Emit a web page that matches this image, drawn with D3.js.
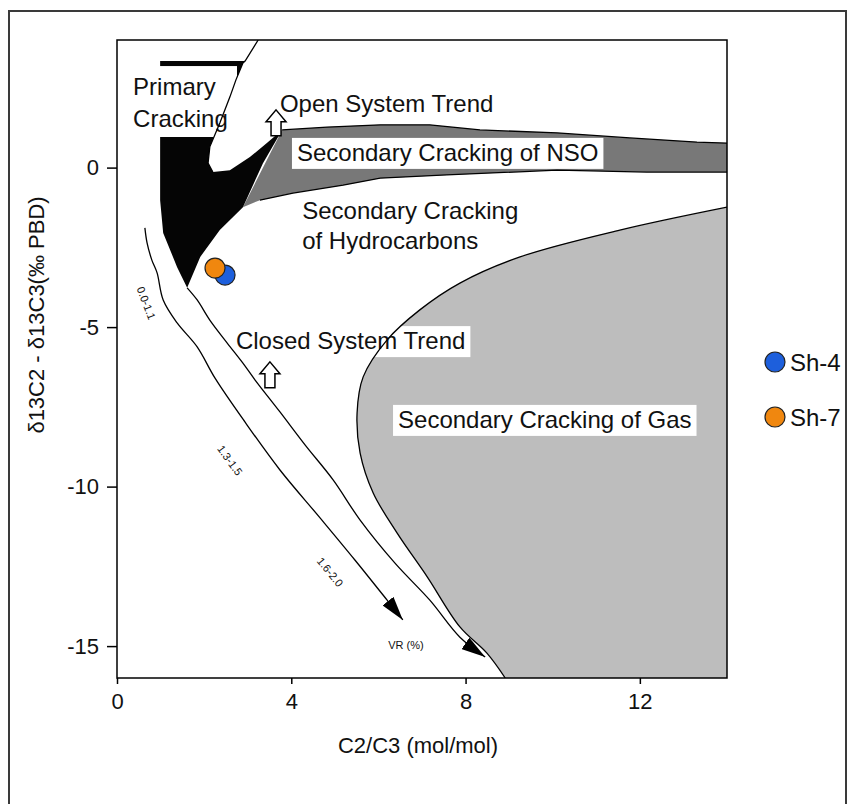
<!DOCTYPE html>
<html><head><meta charset="utf-8">
<script src="https://cdn.jsdelivr.net/npm/d3@7"></script>
<style>body{margin:0;background:#fff} text{font-family:"Liberation Sans",Arial,sans-serif;fill:#111}</style>
</head><body><svg id="c" width="848" height="804"></svg>
<script>
// ---------- data ----------
const xTicks = [0, 4, 8, 12];
const yTicks = [0, -5, -10, -15];
const xLabel = "C2/C3 (mol/mol)";
const yLabel = "δ13C2 - δ13C3(‰ PBD)";

// Primary cracking (black) region outline
const primaryCracking = [[0.99,3.34],[2.94,3.34],[2.89,3.28],[2.73,2.75],[2.59,2.21],[2.36,1.40],[2.13,0.65],[2.09,0.14],[2.20,-0.14],[2.59,-0.08],[3.05,0.33],[3.44,0.77],[3.79,1.18],[3.35,0.14],[2.89,-1.24],[2.36,-1.96],[1.91,-2.80],[1.61,-3.77],[1.38,-3.12],[1.06,-2.05],[0.99,-1.02]];
// Open-system wedge boundary
const openWedge = [[3.24,4],[2.94,3.34],[2.89,3.28],[2.73,2.75],[2.59,2.21],[2.36,1.40],[2.13,0.65],[2.09,0.14],[2.20,-0.14],[2.59,-0.08],[3.05,0.33],[3.44,0.77],[3.79,1.18]];
// Secondary cracking of NSO band (dark grey): upper and lower edges
const nsoTop = [[3.79,1.18],[4.82,1.27],[6.04,1.34],[7.18,1.34],[8.33,1.18],[10.10,1.09],[11.77,0.93],[13.31,0.80],[14,0.77]];
const nsoBottom = [[14,-0.14],[12.16,-0.14],[10.10,-0.08],[7.57,-0.23],[6.04,-0.33],[5.19,-0.55],[4.04,-0.80],[3.28,-1.02],[2.89,-1.24]];
// Secondary cracking of gas (light grey) boundary
const gasEdge = [[14,-1.24],[11.54,-1.96],[9.25,-2.80],[7.87,-3.62],[6.95,-4.46],[6.20,-5.40],[5.65,-6.56],[5.51,-7.69],[5.58,-8.95],[5.88,-10.20],[6.43,-11.46],[7.12,-12.83],[7.87,-14.40],[8.49,-15.22],[8.91,-16]];
// Closed-system (VR) trend curves
const vrLeft = [[0.64,-1.89],[0.69,-2.36],[0.80,-2.90],[0.92,-3.30],[1.06,-4.15],[1.38,-4.87],[1.84,-5.62],[2.25,-6.60],[2.94,-7.98],[3.74,-9.48],[4.66,-10.98],[5.46,-12.30],[6.20,-13.56],[6.56,-14.18]];
const vrRight = [[1.61,-3.77],[1.84,-4.15],[2.13,-4.78],[2.53,-5.50],[2.89,-6.13],[3.17,-6.66],[3.74,-7.66],[4.32,-8.70],[4.96,-9.79],[5.58,-11.05],[6.38,-12.40],[7.18,-13.56],[7.87,-14.72],[8.45,-15.34]];
// Samples
const samples = ["Sh-4", "Sh-7"];
const sampleX = [2.48, 2.25];
const sampleY = [-3.37, -3.15];
const sampleColors = ["#1d5fdc", "#f0870f"];
// Region labels (data-space anchors, left/baseline)
const regionLabels = [
  {t:"Primary", x:0.37, y:2.28, box:false},
  {t:"Cracking", x:0.37, y:1.27, box:false},
  {t:"Open System Trend", x:3.74, y:1.74, box:false},
  {t:"Secondary Cracking of NSO", x:4.13, y:0.21, box:true},
  {t:"Secondary Cracking", x:4.25, y:-1.61, box:false},
  {t:"of Hydrocarbons", x:4.25, y:-2.55, box:false},
  {t:"Closed System Trend", x:2.73, y:-5.69, box:true},
  {t:"Secondary Cracking of Gas", x:6.45, y:-8.16, box:true}
];
const curveLabels = [
  {t:"0.0-1.1", x:0.67, y:-4.25, a:69},
  {t:"1.3-1.5", x:2.59, y:-9.18, a:54},
  {t:"1.6-2.0", x:4.89, y:-12.68, a:51},
  {t:"VR (%)", x:6.63, y:-14.97, a:0}
];
const openArrows = [[3.65,1.81],[3.51,-6.09]];

// ---------- layout ----------
const L=117, R=727, T=40, B=678;
const svg = d3.select("#c");
const x = d3.scaleLinear().domain([0,14]).range([L,R]);
const y = d3.scaleLinear().domain([-16,4]).range([B,T]);
const lin = d3.line().x(d=>x(d[0])).y(d=>y(d[1]));
const smooth = d3.line().x(d=>x(d[0])).y(d=>y(d[1])).curve(d3.curveCatmullRom.alpha(0.5));

svg.append("rect").attr("x",9).attr("y",11).attr("width",837).attr("height",800)
  .attr("fill","none").attr("stroke","#3a3a3a").attr("stroke-width",2);

const defs = svg.append("defs");
defs.append("marker").attr("id","ah").attr("markerUnits","userSpaceOnUse")
  .attr("markerWidth",26).attr("markerHeight",14).attr("refX",24).attr("refY",7)
  .attr("orient","auto").append("path").attr("d","M0,0L24,7L0,14Z").attr("fill","#000");
defs.append("clipPath").attr("id","pc").append("rect").attr("x",L).attr("y",T).attr("width",R-L).attr("height",B-T);

const g = svg.append("g").attr("clip-path","url(#pc)");
// fills
g.append("path").attr("d", smooth(gasEdge) + `L${x(14)},${y(-16)}Z`).attr("fill","#bdbdbd");
g.append("path").attr("d", lin(nsoTop.concat(nsoBottom)) + "Z").attr("fill","#787878");
g.append("path").attr("d", lin(primaryCracking) + "Z").attr("fill","#050505");
// primary cracking label box
g.append("rect").attr("x",x(0.37)-4).attr("y",y(3.34)+5).attr("width",237-(x(0.37)-4)).attr("height",137-(y(3.34)+5)).attr("fill","#fff");

// labels with boxes
const lg = svg.append("g");
regionLabels.forEach(d=>{
  const t = lg.append("text").attr("x",x(d.x)).attr("y",y(d.y)).attr("font-size",24).text(d.t);
  if(d.box){
    const b = t.node().getBBox();
    lg.insert("rect","text").attr("x",b.x-5).attr("y",b.y-1).attr("width",b.width+10).attr("height",b.height+4).attr("fill","#fff");
  }
});

// boundary strokes
const sg = svg.append("g").attr("clip-path","url(#pc)").attr("fill","none").attr("stroke","#000").attr("stroke-width",1.3);
sg.append("path").attr("d", smooth(gasEdge));
sg.append("path").attr("d", lin(nsoTop));
sg.append("path").attr("d", lin(nsoBottom.slice(0,-1)));
sg.append("path").attr("d", lin(openWedge.slice(0,9)));
sg.append("path").attr("d", smooth(vrLeft)).attr("marker-end","url(#ah)");
sg.append("path").attr("d", smooth(vrRight)).attr("marker-end","url(#ah)");

// hollow arrows
openArrows.forEach(p=>{
  svg.append("path").attr("transform",`translate(${x(p[0])},${y(p[1])})`)
    .attr("d","M0,0L10,12L5,12L5,26L-5,26L-5,12L-10,12Z")
    .attr("fill","#fff").attr("stroke","#000").attr("stroke-width",1.5);
});

// curve labels
curveLabels.forEach(d=>{
  svg.append("text").attr("transform",`translate(${x(d.x)},${y(d.y)}) rotate(${d.a})`)
    .attr("text-anchor","middle").attr("dy","0.35em").attr("font-size",11).text(d.t);
});

// sample points
samples.forEach((s,i)=>{
  svg.append("circle").attr("cx",x(sampleX[i])).attr("cy",y(sampleY[i])).attr("r",10)
    .attr("fill",sampleColors[i]).attr("stroke","#222").attr("stroke-width",1.2);
});

// frame + axes
svg.append("rect").attr("x",L).attr("y",T).attr("width",R-L).attr("height",B-T)
  .attr("fill","none").attr("stroke","#000").attr("stroke-width",1.5);
const ax = svg.append("g").attr("transform",`translate(0,${B})`)
  .call(d3.axisBottom(x).tickValues(xTicks).tickSize(6).tickPadding(9).tickFormat(d3.format("d")));
const ay = svg.append("g").attr("transform",`translate(${L},0)`)
  .call(d3.axisLeft(y).tickValues(yTicks).tickSize(10).tickPadding(8).tickFormat(d=>d3.format("d")(d).replace("−","-")));
[ax,ay].forEach(a=>{
  a.select(".domain").remove();
  a.selectAll("line").attr("stroke","#000").attr("stroke-width",1.5);
  a.selectAll("text").attr("font-size",22).attr("font-family","Liberation Sans, Arial").attr("fill","#111");
});
svg.append("text").attr("x",(L+R)/2-4).attr("y",753).attr("text-anchor","middle").attr("font-size",22).text(xLabel);
svg.append("text").attr("transform","translate(44,315) rotate(-90)").attr("text-anchor","middle").attr("font-size",22).text(yLabel);

// legend
samples.forEach((s,i)=>{
  const cy = 362 + i*55;
  svg.append("circle").attr("cx",775).attr("cy",cy).attr("r",10)
    .attr("fill",sampleColors[i]).attr("stroke","#222").attr("stroke-width",1.2);
  svg.append("text").attr("x",790).attr("y",cy).attr("dy","0.36em").attr("font-size",24).text(s);
});
</script></body></html>
